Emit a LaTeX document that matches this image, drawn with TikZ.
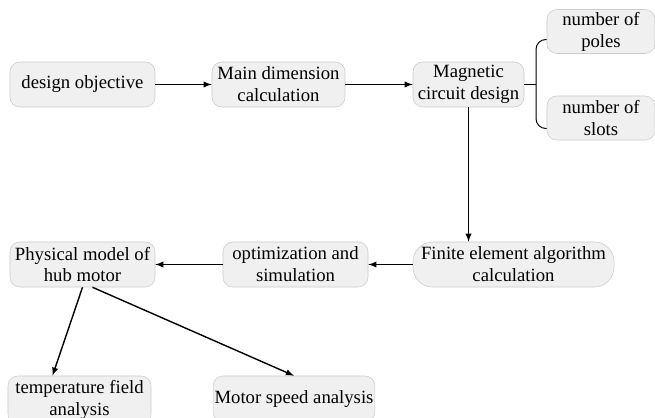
\documentclass[tikz,border=0pt]{standalone}
\usepackage{fontspec}
\setmainfont{Liberation Serif}
\usetikzlibrary{calc}
\tikzset{
  box/.style={draw=gray!40, fill=gray!12, rounded corners=7pt, align=center,
    minimum height=1.125cm, inner sep=1pt, font=\fontsize{13.3}{15.6}\selectfont},
  link/.style={-latex, line width=1pt},
}
\begin{document}
\begin{tikzpicture}[x=0.025cm, y=-0.025cm]
\useasboundingbox (0,0) rectangle (655,418);
% first row
\node[box, minimum width=3.625cm] (obj) at (82.5,84.5) {design objective};
\node[box, minimum width=3.325cm] (dim) at (278.5,84.5) {Main dimension\\calculation};
\node[box, minimum width=2.775cm] (mag) at (468.5,84.5) {Magnetic\\circuit design};
\node[box, minimum width=2.7cm, minimum height=1.1cm] (poles) at (601,31.5) {number of\\poles};
\node[box, minimum width=2.7cm, minimum height=1.1cm] (slots) at (601,118) {number of\\slots};
% second row
\node[box, minimum width=5.025cm, rounded corners=14pt] (fea) at (513.5,264.5) {Finite element algorithm\\calculation};
\node[box, minimum width=3.625cm] (opt) at (295.5,264.5) {optimization and\\simulation};
\node[box, minimum width=3.625cm] (phys) at (82.5,264.5) {Physical model of\\hub motor};
% third row
\node[box, minimum width=3.575cm, minimum height=1.2cm] (temp) at (79.5,400) {temperature field\\analysis};
\node[box, minimum width=3.55cm, minimum height=1.15cm] (speed) at (294,399) {Motor speed analysis};

\draw[link] (obj) -- (dim);
\draw[link] (dim) -- (mag);
\coordinate (br) at (536,84.5);
\draw[line width=0.7pt] (mag) -- (br);
\draw[line width=0.7pt, rounded corners=7pt] ($(poles.west)+(0,8)$) -- (536,39.5) -- (536,128.5) -- ($(slots.west)+(0,10.5)$);
\draw[link] (mag.south) -- (mag.south |- fea.north);
\draw[link] (fea) -- (opt);
\draw[link] (opt) -- (phys);
\draw[link] (phys.south) -- ($(temp.north)+(-27,0)$);
\draw[link] ($(phys.south)+(10,0)$) -- (speed.north);
\end{tikzpicture}
\end{document}
